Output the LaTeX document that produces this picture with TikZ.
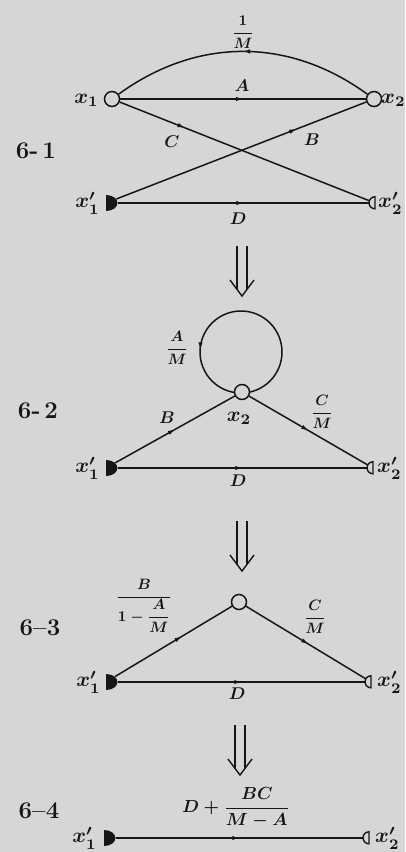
\documentclass[tikz,border=0pt]{standalone}
\usepackage{amsmath}
\usepackage{graphicx}
\usetikzlibrary{arrows.meta,decorations.markings,shapes.geometric}
\definecolor{bg}{RGB}{214,214,212}
\definecolor{ink}{RGB}{22,22,22}
\newcommand{\labA}[1]{\scalebox{1.7}{\boldmath$#1$}}
\newcommand{\labF}[1]{\scalebox{1.5}{\boldmath$\displaystyle #1$}}
\newcommand{\labX}[1]{\scalebox{2.1}{\boldmath$#1$}}
\tikzset{
  line/.style={draw=ink, line width=1.5pt},
  arrowat/.style={postaction={decorate,decoration={markings,
      mark=at position #1 with {\arrow[ink]{Latex[length=7pt,width=4.5pt]}}}}},
  varnode/.style={circle, draw=ink, line width=1.5pt, fill=bg, minimum size=15pt, inner sep=0pt},
  srcnode/.style={ellipse, minimum width=23pt, minimum height=16pt, inner sep=0pt,
      path picture={\fill[ink] (path picture bounding box.north) rectangle (path picture bounding box.south east);}},
  snknode/.style={circle, minimum size=12pt, inner sep=0pt},
  lbl/.style={text=ink, inner sep=1pt},
  panel/.style={font=\fontsize{24}{28}\selectfont\bfseries, text=ink, inner sep=1pt},
  dbl/.pic={
    \draw[ink,line width=1.4pt] (-5,0) -- (-5,-43.3) (5,0) -- (5,-43.3);
    \draw[ink,line width=1.4pt,line join=miter] (-12,-34) -- (0,-50) -- (12,-34);
  }
}
\newcommand{\drawsink}[1]{\draw[ink,line width=1.4pt,fill=bg] (#1.north) arc[start angle=90,end angle=270,radius=6pt] -- cycle;}
\begin{document}
\begin{tikzpicture}[x=1pt,y=1pt]
\fill[bg] (0,0) rectangle (405,-852);
\useasboundingbox (0,0) rectangle (405,-852);

% ---------- 6-1 ----------
\node[varnode] (a1) at (112,-99) {};
\node[varnode] (a2) at (374,-99) {};
\node[srcnode] (a3) at (106,-203) {};
\node[snknode] (a4) at (375,-203) {};
\drawsink{a4}
\draw[line, arrowat=0.5] (a2) to[bend right=36] (a1);
\draw[line, arrowat=0.5] (a1) -- (a2);
\draw[line, arrowat=0.26] (a1) -- (a4);
\draw[line, arrowat=0.72] (a3) -- (a2);
\draw[line, arrowat=0.5] (a3) -- (a4);
\node[lbl, anchor=east] (la1) at (100,-100) {\labX{x_1}};
\node[lbl, anchor=west] (la2) at (380,-100) {\labX{x_2}};
\node[lbl, anchor=east] (la3) at (101,-203) {\labX{x_1'}};
\node[lbl, anchor=west] (la4) at (377,-203) {\labX{x_2'}};
\node[lbl] (fa1) at (243,-32) {\labF{\frac{1}{M}}};
\node[lbl] (fa2) at (242,-86) {\labA{A}};
\node[lbl] (fa3) at (172,-142) {\labA{C}};
\node[lbl] (fa4) at (312,-140) {\labA{B}};
\node[lbl] (fa5) at (238,-219) {\labA{D}};
\node[panel] (pa) at (36,-151) {6-\,1};

\pic at (242,-246) {dbl};

% ---------- 6-2 ----------
\coordinate (lc) at (241,-352);
\draw[line, arrowat=0.49] (lc) circle[radius=41];
\node[varnode] (b1) at (242,-392) {};
\node[srcnode] (b2) at (106,-468) {};
\node[snknode] (b3) at (373,-468) {};
\drawsink{b3}
\draw[line, arrowat=0.5] (b2) -- (b1);
\draw[line, arrowat=0.5] (b1) -- (b3);
\draw[line, arrowat=0.5] (b2) -- (b3);
\node[lbl] (fb1) at (177,-348) {\labF{\frac{A}{M}}};
\node[lbl] (lb1) at (239,-418) {\labX{x_2}};
\node[lbl] (fb2) at (167,-418) {\labA{B}};
\node[lbl] (fb3) at (322,-412) {\labF{\frac{C}{M}}};
\node[lbl] (fb4) at (238,-481) {\labA{D}};
\node[lbl, anchor=east] (lb2) at (101,-468) {\labX{x_1'}};
\node[lbl, anchor=west] (lb3) at (376,-468) {\labX{x_2'}};
\node[panel] (pb) at (38,-411) {6-\,2};

\pic at (242,-521) {dbl};

% ---------- 6-3 ----------
\node[varnode] (c1) at (239,-602) {};
\node[srcnode] (c2) at (106,-682) {};
\node[snknode] (c3) at (371,-682) {};
\drawsink{c3}
\draw[line, arrowat=0.57] (c2) -- (c1);
\draw[line, arrowat=0.52] (c1) -- (c3);
\draw[line, arrowat=0.5] (c2) -- (c3);
\node[lbl] (fc1) at (144,-606) {\labF{\frac{B}{1-\dfrac{A}{M}}}};
\node[lbl] (fc2) at (315,-617) {\labF{\frac{C}{M}}};
\node[lbl] (fc3) at (237,-694) {\labA{D}};
\node[lbl, anchor=east] (lc2) at (102,-682) {\labX{x_1'}};
\node[lbl, anchor=west] (lc3) at (376,-682) {\labX{x_2'}};
\node[panel] (pc) at (40,-628) {6--3};

\pic at (240,-725) {dbl};

% ---------- 6-4 ----------
\node[srcnode] (d1) at (104,-838) {};
\node[snknode] (d2) at (369,-838) {};
\drawsink{d2}
\draw[line, arrowat=0.5] (d1) -- (d2);
\node[lbl] (fd1) at (236,-808) {\scalebox{1.75}{\boldmath$\displaystyle D+\frac{BC}{M-A}$}};
\node[lbl, anchor=east] (ld1) at (98,-838) {\labX{x_1'}};
\node[lbl, anchor=west] (ld2) at (374,-838) {\labX{x_2'}};
\node[panel] (pd) at (39,-811) {6--4};
\end{tikzpicture}
\end{document}
